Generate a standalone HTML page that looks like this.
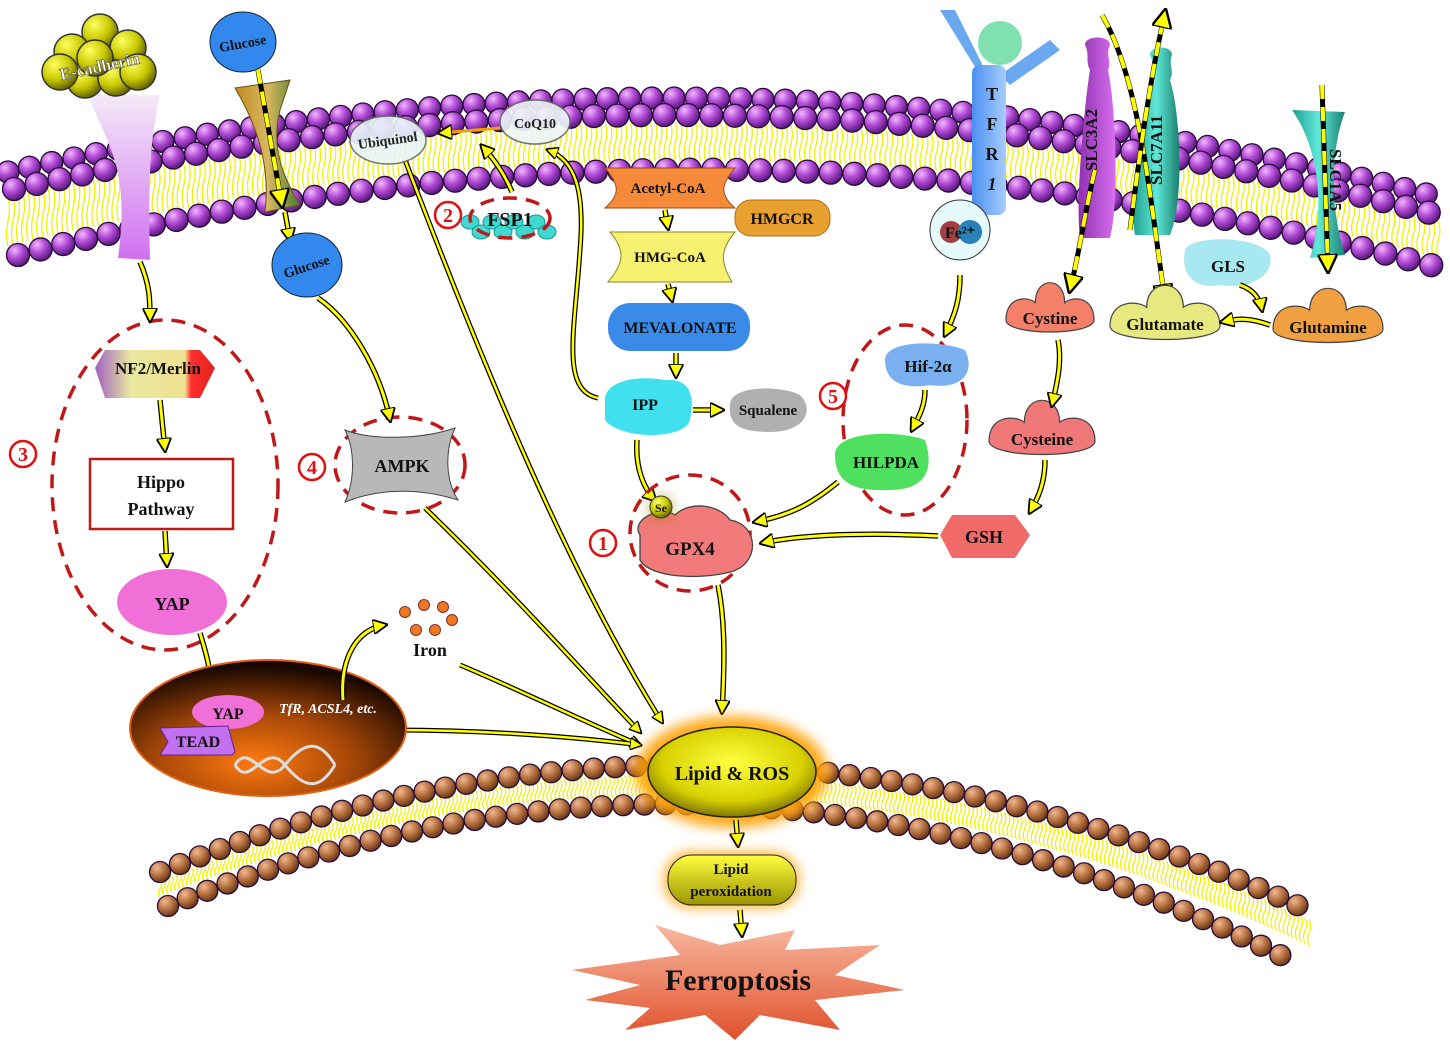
<!DOCTYPE html>
<html><head><meta charset="utf-8">
<style>
html,body{margin:0;padding:0;background:#fff;}
svg{display:block;font-family:"Liberation Serif",serif;font-weight:bold;}
</style></head>
<body>
<svg id="s" width="1450" height="1043" viewBox="0 0 1450 1043" xmlns="http://www.w3.org/2000/svg">
<defs>
<radialGradient id="pb" cx="35%" cy="30%" r="70%"><stop offset="0" stop-color="#f2b8ff"/><stop offset="0.5" stop-color="#b24bd6"/><stop offset="1" stop-color="#5a1a80"/></radialGradient>
<radialGradient id="bb" cx="35%" cy="30%" r="70%"><stop offset="0" stop-color="#f0b890"/><stop offset="0.55" stop-color="#b5703f"/><stop offset="1" stop-color="#6a3a18"/></radialGradient>
<radialGradient id="yb" cx="35%" cy="30%" r="70%"><stop offset="0" stop-color="#ffff60"/><stop offset="0.6" stop-color="#c8c800"/><stop offset="1" stop-color="#6a6a00"/></radialGradient>
<radialGradient id="nuc" cx="45%" cy="75%" r="70%"><stop offset="0" stop-color="#ff7a10"/><stop offset="0.5" stop-color="#a84808"/><stop offset="1" stop-color="#1a0800"/></radialGradient>
<radialGradient id="ros" cx="50%" cy="40%" r="60%"><stop offset="0" stop-color="#ffff40"/><stop offset="0.7" stop-color="#d8d000"/><stop offset="1" stop-color="#807800"/></radialGradient>
<linearGradient id="lp" x1="0" y1="0" x2="0" y2="1"><stop offset="0" stop-color="#ffff40"/><stop offset="1" stop-color="#9a9400"/></linearGradient>
<linearGradient id="fer" x1="0" y1="0" x2="0" y2="1"><stop offset="0" stop-color="#f7b8a0"/><stop offset="1" stop-color="#e0502a"/></linearGradient>
<linearGradient id="nf2" x1="0" y1="0" x2="1" y2="0"><stop offset="0" stop-color="#a060c0"/><stop offset="0.3" stop-color="#e8e8a0"/><stop offset="0.75" stop-color="#f0e090"/><stop offset="0.8" stop-color="#ff3030"/><stop offset="1" stop-color="#e02020"/></linearGradient>
<linearGradient id="cad" x1="0" y1="0" x2="0" y2="1"><stop offset="0" stop-color="#f4eaf8"/><stop offset="1" stop-color="#d070f0"/></linearGradient>
<linearGradient id="glt" x1="0" y1="0" x2="1" y2="0"><stop offset="0" stop-color="#c08a20"/><stop offset="0.5" stop-color="#d8b860"/><stop offset="1" stop-color="#4a7a30"/></linearGradient>
<linearGradient id="tf" x1="0" y1="0" x2="1" y2="0"><stop offset="0" stop-color="#4a90f0"/><stop offset="1" stop-color="#a8ccff"/></linearGradient>
<linearGradient id="sl3" x1="0" y1="0" x2="1" y2="0"><stop offset="0" stop-color="#9030b0"/><stop offset="1" stop-color="#d870f0"/></linearGradient>
<linearGradient id="sl7" x1="0" y1="0" x2="1" y2="0"><stop offset="0" stop-color="#20a090"/><stop offset="0.5" stop-color="#60e8d8"/><stop offset="1" stop-color="#1a8070"/></linearGradient>
<filter id="glow" x="-30%" y="-30%" width="160%" height="160%"><feGaussianBlur stdDeviation="6"/></filter>
<marker id="ah" viewBox="0 0 10 10" refX="8" refY="5" markerWidth="5" markerHeight="5" orient="auto-start-reverse"><path d="M0,0 L10,5 L0,10 Z" fill="#ffff00" stroke="#000" stroke-width="1.2"/></marker>
</defs>
<g id="mem"></g>
<g id="fg"></g>
</svg>
<script>
var NS="http://www.w3.org/2000/svg",mem=document.getElementById('mem'),fg=document.getElementById('fg');
function el(p,t,a){var e=document.createElementNS(NS,t);for(var k in a)e.setAttribute(k,a[k]);p.appendChild(e);return e;}
function q(p0,p1,p2,t){var u=1-t;return [u*u*p0[0]+2*u*t*p1[0]+t*t*p2[0],u*u*p0[1]+2*u*t*p1[1]+t*t*p2[1]];}
function row(p0,p1,p2,r,fill,g){var pts=[],prev=null;for(var t=0;t<=1.0001;t+=0.0005){var p=q(p0,p1,p2,t);if(!prev||Math.hypot(p[0]-prev[0],p[1]-prev[1])>=r*2){pts.push(p);prev=p;}}
pts.forEach(function(p){el(g,'circle',{cx:p[0],cy:p[1],r:r,fill:fill,stroke:'#2a0a3a','stroke-width':1.3});});return pts;}
function tails(a0,a1,a2,b0,b1,b2,g){var d='';for(var t=0;t<=1;t+=0.0035){var a=q(a0,a1,a2,t),b=q(b0,b1,b2,t);var x=a[0],y=a[1]+9,L=(b[1]-9)-y;if(L<4)continue;d+='M'+x+','+y+' q3,'+(L/4)+' 0,'+(L/2)+' q-3,'+(L/4)+' 0,'+(L/2)+' ';}el(g,'path',{d:d,stroke:'#f4f000','stroke-width':1.3,fill:'none'});}
var T0=[8,172],T1=[725,12],T2=[1442,198];
var B0=[18,255],B1=[725,78],B2=[1442,268];
tails([T0[0],T0[1]+16],[T1[0],T1[1]+16],[T2[0],T2[1]+16],B0,B1,B2,mem);
row(T0,T1,T2,11,'url(#pb)',mem);
row([T0[0]+6,T0[1]+17],[T1[0],T1[1]+17],[T2[0]-4,T2[1]+17],11.5,'url(#pb)',mem);
row(B0,B1,B2,11.5,'url(#pb)',mem);
var L0=[160,872],L1=[730,640],L2=[1312,912];
var M0=[168,906],M1=[730,680],M2=[1282,956];
tails(L0,L1,L2,M0,M1,M2,mem);
row(L0,L1,L2,10.5,'url(#bb)',mem);
row(M0,M1,M2,10.5,'url(#bb)',mem);

function arrow(d,w){w=w||4;el(fg,'path',{d:d,stroke:'#000','stroke-width':w+2.5,fill:'none'});el(fg,'path',{d:d,stroke:'#ffff00','stroke-width':w,fill:'none','marker-end':'url(#ah)'});}
function dash(d){el(fg,'path',{d:d,stroke:'#000','stroke-width':5,fill:'none'});el(fg,'path',{d:d,stroke:'#ffff00','stroke-width':4,fill:'none','stroke-dasharray':'14 8','marker-end':'url(#ah)'});}
function txt(x,y,s,size,col,extra){var t=el(fg,'text',Object.assign({x:x,y:y,'font-size':size,'text-anchor':'middle',fill:col||'#111'},extra||{}));t.textContent=s;return t;}
function num(x,y,n){el(fg,'circle',{cx:x,cy:y,r:13,fill:'#fff',stroke:'#e01010','stroke-width':2.5});txt(x,y+7,n,20,'#e01010');}
function dell(cx,cy,rx,ry){el(fg,'ellipse',{cx:cx,cy:cy,rx:rx,ry:ry,fill:'none',stroke:'#c01818','stroke-width':3.5,'stroke-dasharray':'14 9'});}

arrow('M405,160 C470,330 560,560 662,722',2.5);
arrow('M425,508 C520,600 590,680 640,732',2.5);
arrow('M460,665 C520,690 580,720 640,745',2.5);
arrow('M395,730 C470,730 560,735 640,745',2.5);
arrow('M598,398 C560,390 575,330 580,250 C585,190 575,160 548,150',2.5);
arrow('M512,192 C505,175 495,160 482,146',3);
el(fg,'path',{d:'M500,128 L440,133',stroke:'#f0a000','stroke-width':3,'marker-end':'url(#ah)'});

el(fg,'path',{d:'M88,95 C110,150 130,170 118,258 L150,260 C148,180 150,140 160,95 Z',fill:'url(#cad)'});
[[100,32],[72,52],[128,48],[85,80],[116,78],[95,58],[60,72],[138,72]].forEach(function(p){el(fg,'circle',{cx:p[0],cy:p[1],r:18,fill:'url(#yb)',stroke:'#333','stroke-width':1.5});});
txt(100,72,'E-cadherin',17,'#fff',{transform:'rotate(-12 100 68)',stroke:'#555','stroke-width':0.6});
el(fg,'path',{d:'M235,88 L290,80 L280,110 C270,150 285,180 300,205 L265,212 C270,170 260,130 235,88 Z',fill:'url(#glt)',stroke:'#6a5010'});
el(fg,'ellipse',{cx:243,cy:42,rx:33,ry:30,fill:'#3388ee',stroke:'#123'});
txt(243,48,'Glucose',14,'#111',{transform:'rotate(-10 243 45)'});
dash('M258,70 L282,205');
arrow('M285,212 L290,240',3);
el(fg,'ellipse',{cx:307,cy:265,rx:35,ry:32,fill:'#3388ee',stroke:'#123'});
txt(307,271,'Glucose',14,'#111',{transform:'rotate(-18 307 268)'});
el(fg,'ellipse',{cx:388,cy:140,rx:38,ry:24,fill:'#e8f4f8',stroke:'#666','stroke-width':1.5,opacity:0.9});
txt(388,145,'Ubiquinol',14,'#222',{transform:'rotate(-8 388 143)'});
el(fg,'ellipse',{cx:535,cy:122,rx:35,ry:22,fill:'#eef6f8',stroke:'#666','stroke-width':1.5,opacity:0.9});
txt(535,128,'CoQ10',14,'#222');
for(var i=0;i<8;i++){el(fg,'ellipse',{cx:470+i*11,cy:222+(i%2)*10,rx:9,ry:7,fill:'#40d8d0',stroke:'#1a9a90'});}
dell(510,218,40,20);
txt(510,226,'FSP1',20,'#111');
num(448,215,'2');
el(fg,'path',{d:'M605,168 L735,168 C720,185 720,195 735,208 L605,208 C620,195 620,185 605,168 Z',fill:'#f58a3a',stroke:'#a04a10'});
txt(668,193,'Acetyl-CoA',15);
el(fg,'rect',{x:735,y:200,width:95,height:36,rx:16,fill:'#e8a030',stroke:'#b07010'});
txt(782,224,'HMGCR',16);
el(fg,'path',{d:'M610,232 L735,232 C720,250 720,262 732,282 L608,282 C625,262 625,250 610,232 Z',fill:'#f8f070',stroke:'#8a8a20'});
txt(670,262,'HMG-CoA',15);
el(fg,'rect',{x:608,y:303,width:142,height:48,rx:22,fill:'#3a8ae8'});
txt(680,333,'MEVALONATE',16);
el(fg,'path',{d:'M605,400 C605,380 640,375 665,380 C690,378 695,395 690,420 C685,440 620,440 605,420 Z',fill:'#40e0ee'});
txt(645,410,'IPP',16);
el(fg,'path',{d:'M730,405 C730,385 780,385 800,395 C815,410 805,432 770,432 C740,432 728,425 730,405 Z',fill:'#b0b0b0'});
txt(768,415,'Squalene',15);
arrow('M665,210 L668,228',3);arrow('M668,284 L672,300',3);arrow('M676,353 L676,376',3);
arrow('M693,410 L722,410',3);
arrow('M637,440 C635,470 645,490 655,500',3);
dell(690,533,60,58);
el(fg,'path',{d:'M640,535 C630,520 660,505 675,515 C690,500 720,505 730,520 C760,525 760,565 730,572 C700,580 650,578 640,560 Z',fill:'#f27a7a',stroke:'#444','stroke-width':1.3});
el(fg,'circle',{cx:661,cy:508,r:14,fill:'#a08000',opacity:0.4,filter:'url(#glow)'});
el(fg,'circle',{cx:661,cy:507,r:11,fill:'url(#yb)',stroke:'#333'});
txt(661,512,'Se',12);
txt(690,555,'GPX4',19);
num(603,543,'1');
el(fg,'path',{d:'M940,10 L955,10 L985,70 L980,75 Z',fill:'#6aa8f0'});
el(fg,'path',{d:'M1050,40 L1060,50 L1010,85 L1000,75 Z',fill:'#6aa8f0'});
el(fg,'rect',{x:972,y:65,width:34,height:150,rx:8,fill:'url(#tf)'});
el(fg,'circle',{cx:1000,cy:43,r:22,fill:'#80e0b0'});
txt(992,100,'T',18);txt(992,130,'F',18);txt(992,160,'R',18);txt(992,190,'1',18,'#111',{'font-style':'italic'});
el(fg,'circle',{cx:960,cy:230,r:30,fill:'#e6fafc',stroke:'#333'});
el(fg,'circle',{cx:951,cy:232,r:11,fill:'#a04040'});el(fg,'circle',{cx:970,cy:232,r:12,fill:'#2a80b8'});
txt(960,238,'Fe²⁺',16);
arrow('M960,275 C960,300 955,315 945,335',3);
dell(905,420,62,95);
el(fg,'path',{d:'M885,360 C885,340 940,340 965,350 C975,370 965,390 930,385 C900,390 885,380 885,360 Z',fill:'#7ab0f0'});
txt(928,372,'Hif-2α',17);
el(fg,'path',{d:'M835,455 C835,430 900,430 925,440 C935,470 925,490 890,490 C850,492 835,480 835,455 Z',fill:'#50e060'});
txt(886,468,'HILPDA',17);
num(833,396,'5');
arrow('M925,390 C925,405 920,415 912,430',3);
arrow('M838,482 C810,505 790,515 755,522',3);
el(fg,'path',{d:'M1085,45 C1085,35 1110,35 1110,45 C1105,55 1112,60 1108,70 C1115,100 1120,200 1110,238 L1080,238 C1075,200 1085,100 1090,70 C1085,60 1090,55 1085,45 Z',fill:'url(#sl3)'});
txt(1097,140,'SLC3A2',17,'#111',{transform:'rotate(-90 1097 140)'});
el(fg,'path',{d:'M1150,55 C1150,45 1172,45 1172,55 C1168,65 1175,70 1170,80 C1180,110 1185,200 1170,235 L1135,235 C1128,200 1145,110 1155,80 C1150,70 1155,65 1150,55 Z',fill:'url(#sl7)'});
txt(1162,150,'SLC7A11',17,'#111',{transform:'rotate(-90 1162 150)'});
el(fg,'path',{d:'M1292,110 L1345,112 C1330,150 1330,210 1345,255 L1310,258 C1325,210 1320,150 1292,110 Z',fill:'url(#sl7)'});
txt(1330,180,'SLC1A5',17,'#111',{transform:'rotate(90 1330 180)'});
dash('M1102,15 C1140,80 1150,200 1165,300');
dash('M1130,230 C1140,150 1150,80 1165,12');
dash('M1095,170 C1085,210 1080,250 1070,290');
dash('M1322,85 L1328,270');
function blob(cx,cy,w,h,fill,label,size){el(fg,'path',{d:'M'+(cx-w/2)+','+(cy+4)+' C'+(cx-w/2)+','+(cy-h/2)+' '+(cx-w/4)+','+(cy-h/2)+' '+(cx-w/6)+','+(cy-h/3)+' C'+(cx-w/6)+','+(cy-h)+' '+(cx+w/6)+','+(cy-h)+' '+(cx+w/6)+','+(cy-h/3)+' C'+(cx+w/4)+','+(cy-h/2)+' '+(cx+w/2)+','+(cy-h/2)+' '+(cx+w/2)+','+(cy+4)+' C'+(cx+w/2)+','+(cy+h/2)+' '+(cx-w/2)+','+(cy+h/2)+' '+(cx-w/2)+','+(cy+4)+' Z',fill:fill,stroke:'#444','stroke-width':1.2});txt(cx,cy+8,label,size);}
blob(1050,316,88,40,'#f5806a','Cystine',17);
blob(1165,322,110,44,'#e8e880','Glutamate',17);
blob(1328,325,110,44,'#f0a040','Glutamine',17);
blob(1042,437,106,44,'#f07878','Cysteine',17);
el(fg,'path',{d:'M1185,250 C1190,235 1260,235 1270,255 C1275,275 1250,290 1220,285 C1195,290 1180,275 1185,250 Z',fill:'#a8e8f0'});
txt(1228,272,'GLS',17);
arrow('M1240,285 C1255,290 1260,300 1262,310',3);
arrow('M1270,325 C1250,318 1240,318 1222,322',3);
arrow('M1058,340 C1062,360 1058,380 1052,405',3);
arrow('M1045,460 C1045,480 1040,495 1030,512',3);
el(fg,'path',{d:'M952,515 L1015,515 L1030,535 L1015,558 L952,558 L940,535 Z',fill:'#f06a6a'});
txt(984,543,'GSH',18);
arrow('M938,536 C860,532 800,535 762,543',3);
arrow('M718,585 C725,620 725,660 722,712',3);
dell(165,485,113,165);
num(23,454,'3');
el(fg,'path',{d:'M105,350 L200,350 L215,368 L200,398 L105,398 L95,368 Z',fill:'url(#nf2)'});
txt(158,374,'NF2/Merlin',17);
el(fg,'rect',{x:90,y:459,width:143,height:70,fill:'#fff',stroke:'#c01818','stroke-width':2.5});
txt(161,488,'Hippo',18);txt(161,515,'Pathway',18);
el(fg,'ellipse',{cx:172,cy:602,rx:55,ry:33,fill:'#f070d8'});
txt(172,610,'YAP',18);
arrow('M140,262 C150,285 150,300 150,320',3);
arrow('M160,400 L165,450',3);arrow('M165,531 L167,565',3);
arrow('M200,633 C205,650 210,665 212,690',3);
dell(400,465,65,48);
num(312,467,'4');
el(fg,'path',{d:'M345,430 C370,440 420,440 455,428 C445,450 445,480 458,500 C420,488 380,488 345,502 C355,480 355,450 345,430 Z',fill:'#b8b8b8',stroke:'#444'});
txt(402,472,'AMPK',18);
arrow('M318,298 C350,320 380,370 390,420',3);
el(fg,'ellipse',{cx:268,cy:728,rx:138,ry:68,fill:'url(#nuc)',stroke:'#e06010','stroke-width':2});
el(fg,'path',{d:'M235,765 C250,740 265,790 285,765 S320,740 335,765',stroke:'#ddd',fill:'none','stroke-width':3});
el(fg,'path',{d:'M235,765 C250,790 265,740 285,765 S320,790 335,765',stroke:'#ddd',fill:'none','stroke-width':3});
el(fg,'ellipse',{cx:228,cy:712,rx:36,ry:17,fill:'#f070d8'});
txt(228,719,'YAP',16);
el(fg,'path',{d:'M160,728 L228,726 L235,752 L232,755 L160,755 L168,742 Z',fill:'#c070f0',stroke:'#6a2090'});
txt(198,747,'TEAD',16);
txt(328,713,'TfR, ACSL4, etc.',14,'#fff',{'font-style':'italic'});
arrow('M343,700 C340,660 355,630 385,625',3);
[[405,612],[424,605],[443,607],[452,620],[416,630],[435,630]].forEach(function(p){el(fg,'circle',{cx:p[0],cy:p[1],r:5.5,fill:'#f07820',stroke:'#733'});});
txt(430,656,'Iron',18);
el(fg,'ellipse',{cx:732,cy:772,rx:96,ry:56,fill:'#ffa000',opacity:0.9,filter:'url(#glow)'});
el(fg,'ellipse',{cx:732,cy:772,rx:84,ry:45,fill:'url(#ros)',stroke:'#222','stroke-width':1.5});
txt(732,780,'Lipid & ROS',20);
arrow('M736,820 L738,845',3);
el(fg,'rect',{x:664,y:852,width:135,height:56,rx:26,fill:'#ffa000',opacity:0.8,filter:'url(#glow)'});
el(fg,'rect',{x:668,y:855,width:128,height:50,rx:24,fill:'url(#lp)',stroke:'#222'});
txt(731,874,'Lipid',15);txt(731,896,'peroxidation',15);
arrow('M740,910 L742,935',3);
el(fg,'path',{d:'M572,970 L680,955 L655,925 L720,945 L795,930 L785,950 L880,945 L835,975 L905,990 L815,1000 L840,1030 L760,1015 L735,1040 L705,1015 L625,1030 L650,1008 L585,1000 L640,985 Z',fill:'url(#fer)'});
txt(738,990,'Ferroptosis',30);
</script>
</body></html>
